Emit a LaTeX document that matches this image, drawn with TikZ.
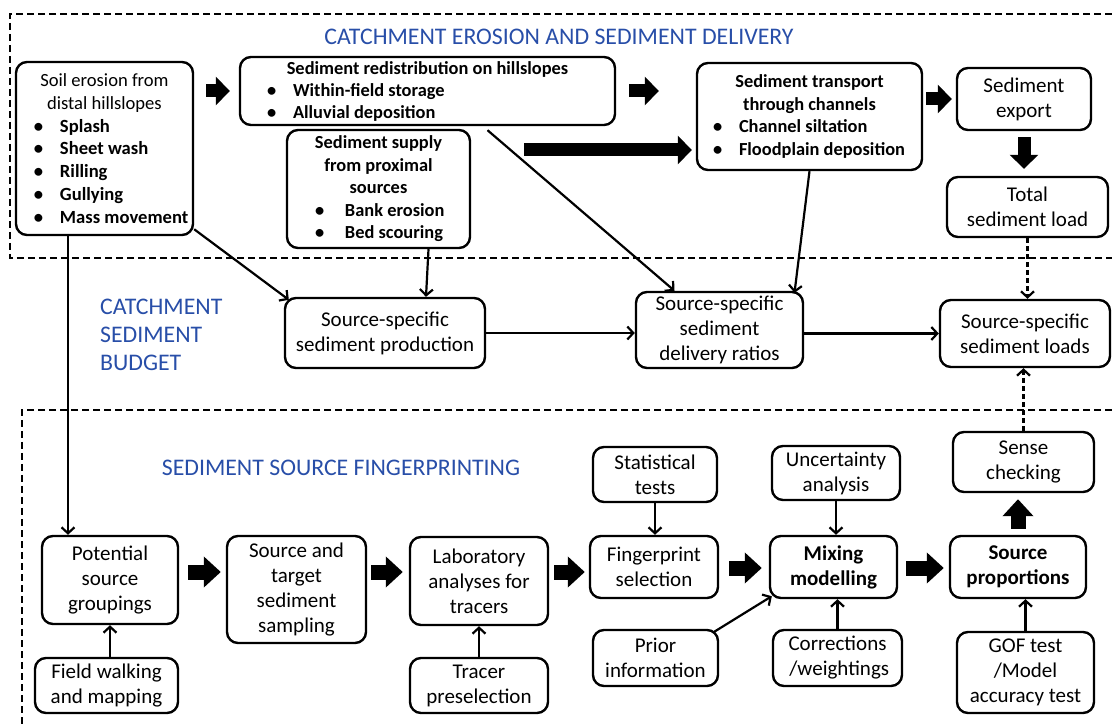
\documentclass[tikz,border=0pt]{standalone}
\usepackage{fontspec}
\setmainfont{Carlito}
\usetikzlibrary{arrows.meta,calc}
\definecolor{ttlblue}{RGB}{40,78,168}
\newcommand\mybul[2]{\hspace*{#1}\makebox[#2][l]{\textbullet}}
\begin{document}
\begin{tikzpicture}[x=1pt,y=-1pt,
  box/.style={draw,line width=2.4pt,rounded corners=11pt,inner sep=0pt,align=center,font=\fontsize{21}{25}\selectfont},
  bbox/.style={box,font=\fontsize{21}{25}\selectfont\bfseries},
  bulbox/.style={draw,line width=2.4pt,rounded corners=11pt,inner sep=0pt},
  fat/.style={line width=15pt,-{Triangle[width=30pt,length=17pt]}},
  fats/.style={line width=13pt,-{Triangle[width=28pt,length=14pt]}},
  thin/.style={line width=2.2pt,-{Straight Barb[length=6pt,width=13pt]}},
  dthin/.style={thin,dash pattern=on 5pt off 3pt},
  dbox/.style={line width=1.6pt,dash pattern=on 7pt off 4pt},
  ttl/.style={text=ttlblue,font=\fontsize{23.8}{28}\selectfont,align=left,inner sep=0pt}]
\useasboundingbox (0,0) rectangle (1112,727);
\draw[dbox] (1112,14) -- (10,14) -- (10,258) -- (1112,258);
\draw[dbox] (1112,410) -- (22,410) -- (22,727);

\node[ttl] (t1) at (559,37) {CATCHMENT EROSION AND SEDIMENT DELIVERY};
\node[ttl,anchor=west] (t2) at (100,335) {CATCHMENT\\SEDIMENT\\BUDGET};
\node[ttl] (t3) at (341,468) {SEDIMENT SOURCE FINGERPRINTING};

% top section
\node[bulbox,minimum width=177pt,minimum height=173pt] (soil) at (104.5,148.5) {%
\begin{minipage}{177pt}\fontsize{18.6}{22.8}\selectfont
{\centering Soil erosion from\\distal hillslopes\par}
\raggedright\bfseries
\mybul{18pt}{26pt}Splash\\
\mybul{18pt}{26pt}Sheet wash\\
\mybul{18pt}{26pt}Rilling\\
\mybul{18pt}{26pt}Gullying\\
\mybul{18pt}{26pt}Mass movement
\end{minipage}};

\node[bulbox,minimum width=375pt,minimum height=68pt] (redist) at (427.5,91) {%
\begin{minipage}{375pt}\fontsize{18.4}{22}\selectfont\bfseries
{\centering Sediment redistribution on hillslopes\par}
\raggedright
\mybul{27pt}{26pt}Within-field storage\\
\mybul{27pt}{26pt}Alluvial deposition
\end{minipage}};

\node[bulbox,minimum width=183pt,minimum height=118pt] (supply) at (378.5,189) {%
\begin{minipage}{183pt}\fontsize{18.4}{22.5}\selectfont\bfseries
{\centering Sediment supply\\from proximal\\sources\par}
\raggedright
\mybul{28pt}{30pt}Bank erosion\\
\mybul{28pt}{30pt}Bed scouring
\end{minipage}};

\node[bulbox,minimum width=225pt,minimum height=107pt] (trans) at (809.5,116.5) {%
\begin{minipage}{225pt}\fontsize{18.4}{22.5}\selectfont\bfseries
{\centering Sediment transport\\through channels\par}
\raggedright
\mybul{16pt}{26pt}Channel siltation\\
\mybul{16pt}{26pt}Floodplain deposition
\end{minipage}};

\node[box,minimum width=134pt,minimum height=62pt] (export) at (1024,99) {Sediment\\export};
\node[box,minimum width=161pt,minimum height=60pt] (total) at (1027.5,207) {Total\\sediment load};

% middle section
\node[box,minimum width=200pt,minimum height=70pt] (prod) at (385,333) {Source-specific\\sediment production};
\node[box,minimum width=167pt,minimum height=76pt] (delv) at (719.5,330) {Source-specific\\sediment\\delivery ratios};
\node[box,minimum width=170pt,minimum height=67pt] (loads) at (1025,333.5) {Source-specific\\sediment loads};

% bottom section
\node[box,minimum width=136pt,minimum height=88pt] (pot) at (110,580) {Potential\\source\\groupings};
\node[box,minimum width=139pt,minimum height=107pt] (src) at (296.5,589.5) {Source and\\target\\sediment\\sampling};
\node[box,minimum width=138pt,minimum height=88pt] (lab) at (479,581) {Laboratory\\analyses for\\tracers};
\node[box,minimum width=128pt,minimum height=62pt] (finger) at (654,567) {Fingerprint\\selection};
\node[bbox,minimum width=127pt,minimum height=62pt] (mix) at (833.5,567) {Mixing\\modelling};
\node[bbox,minimum width=136pt,minimum height=62pt] (srcp) at (1018,567) {Source\\proportions};
\node[box,minimum width=143pt,minimum height=55pt] (field) at (106.5,685.5) {Field walking\\and mapping};
\node[box,minimum width=138pt,minimum height=55pt] (tracer) at (479,685.5) {Tracer\\preselection};
\node[box,minimum width=124pt,minimum height=55pt] (stat) at (655,474.5) {Statistical\\tests};
\node[box,minimum width=128pt,minimum height=54pt] (unc) at (836,473) {Uncertainty\\analysis};
\node[box,minimum width=141pt,minimum height=60pt] (sense) at (1023.5,462) {Sense\\checking};
\node[box,minimum width=125pt,minimum height=56pt] (prior) at (655.5,658) {Prior\\information};
\node[box,minimum width=129pt,minimum height=56pt] (corr) at (837.5,658) {Corrections\\\,/weightings};
\node[box,minimum width=137pt,minimum height=81pt] (gof) at (1025.5,672.5) {GOF test\\/Model\\accuracy test};

% fat arrows
\draw[fats,shorten <=12pt,shorten >=9pt] (soil.east |- redist.west) -- (redist.west);
\draw[fats,shorten <=13pt,shorten >=37pt] (redist.east) -- (redist.east -| trans.west);
\draw[fats,shorten <=3pt,shorten >=4pt] (trans.east |- export.west) -- (export.west);
\draw[fats,shorten <=6pt,shorten >=7pt] (export.south) -- (export.south |- total.north);
\coordinate (ls) at (524,150);
\draw[fats,shorten >=4pt] (ls) -- (ls -| trans.west);
\coordinate (r1) at (0,572);
\coordinate (r2) at (0,568);
\draw[fat,shorten <=9pt,shorten >=5pt] (pot.east |- r1) -- (src.west |- r1);
\draw[fat,shorten <=4pt,shorten >=6pt] (src.east |- r1) -- (lab.west |- r1);
\draw[fat,shorten <=5pt,shorten >=4pt] (lab.east |- r1) -- (finger.west |- r1);
\draw[fat,shorten <=10pt,shorten >=7pt] (finger.east |- r2) -- (mix.west |- r2);
\draw[fat,shorten <=8pt,shorten >=5pt] (mix.east |- r2) -- (srcp.west |- r2);
\draw[fat,shorten <=6pt,shorten >=6pt] (srcp.north) -- (srcp.north |- sense.south);

% thin arrows
\coordinate (c68) at (68,0);
\draw[thin] (soil.south -| c68) -- (pot.north -| c68);
\draw[thin] (soil.-42) -- ($(prod.north west)+(5,3)$);
\draw[thin] ($(supply.south)+(50,0)$) -- ($(prod.north)+(41,0)$);
\draw[thin] ($(redist.south)+(60,4)$) -- ($(delv.north)+(-45,0)$);
\draw[thin] (trans.south) -- ($(delv.north)+(75,2)$);
\draw[thin] (prod.east) -- (prod.east -| delv.west);
\draw[thin] (delv.east |- loads.west) -- (loads.west);
\draw[dthin] (total.south) -- (total.south |- loads.north);
\draw[dthin] (sense.north) -- (sense.north |- loads.south);
\draw[thin] (field.north -| pot.south) -- (pot.south);
\draw[thin] (tracer.north) -- (lab.south);
\draw[thin] (stat.south) -- (stat.south |- finger.north);
\draw[thin] (unc.south) -- (unc.south |- mix.north);
\draw[thin] ($(prior.north east)+(-5,3)$) -- ($(mix.south west)+(3,-3)$);
\draw[thin] (corr.north) -- (corr.north |- mix.south);
\draw[thin] (gof.north) -- (gof.north |- srcp.south);
\end{tikzpicture}
\end{document}
